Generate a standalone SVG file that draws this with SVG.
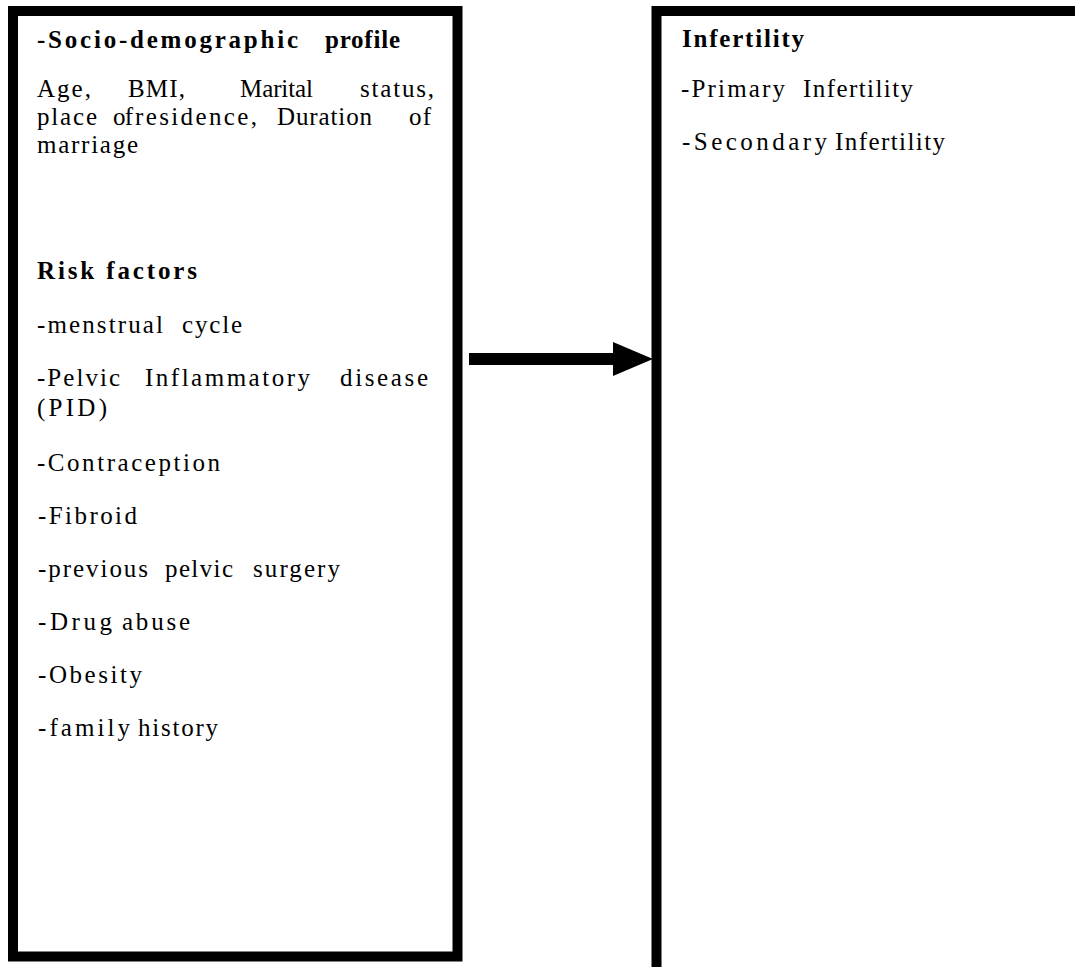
<svg xmlns="http://www.w3.org/2000/svg" width="1075" height="967" viewBox="0 0 1075 967">
<style>
.box{fill:#fff;stroke:#000;stroke-width:10}
.t{font-family:"Liberation Serif","DejaVu Serif","Noto Serif",Tinos,FreeSerif,serif;font-size:25px;fill:#000}
.b{font-weight:bold}
</style>
<rect x="0" y="0" width="1075" height="967" fill="#fff"/>
<g id="node-left">
<rect class="box" x="13" y="11" width="444.5" height="945.5"/>
<text class="t b" y="48"><tspan x="37" textLength="261" lengthAdjust="spacing">-Socio-demographic</tspan><tspan x="325" textLength="75" lengthAdjust="spacing">profile</tspan></text>
<text class="t" y="97"><tspan x="37" textLength="54" lengthAdjust="spacing">Age,</tspan><tspan x="128" textLength="57" lengthAdjust="spacing">BMI,</tspan><tspan x="240" textLength="73" lengthAdjust="spacing">Marital</tspan><tspan x="360" textLength="74" lengthAdjust="spacing">status,</tspan></text>
<text class="t" y="125"><tspan x="37" textLength="60" lengthAdjust="spacing">place</tspan><tspan x="113" textLength="20" lengthAdjust="spacing">of</tspan><tspan x="135" textLength="122" lengthAdjust="spacing">residence,</tspan><tspan x="277" textLength="95" lengthAdjust="spacing">Duration</tspan><tspan x="409" textLength="22" lengthAdjust="spacing">of</tspan></text>
<text class="t" x="37" y="153" textLength="101" lengthAdjust="spacing">marriage</text>
<text class="t b" x="37" y="279" textLength="160" lengthAdjust="spacing">Risk factors</text>
<text class="t" y="333"><tspan x="37" textLength="126" lengthAdjust="spacing">-menstrual</tspan><tspan x="182" textLength="60" lengthAdjust="spacing">cycle</tspan></text>
<text class="t" y="386"><tspan x="37" textLength="83" lengthAdjust="spacing">-Pelvic</tspan><tspan x="145" textLength="165" lengthAdjust="spacing">Inflammatory</tspan><tspan x="340" textLength="88" lengthAdjust="spacing">disease</tspan></text>
<text class="t" x="37" y="416" textLength="70" lengthAdjust="spacing">(PID)</text>
<text class="t" x="37" y="471" textLength="183" lengthAdjust="spacing">-Contraception</text>
<text class="t" x="38" y="524" textLength="99" lengthAdjust="spacing">-Fibroid</text>
<text class="t" y="577"><tspan x="38" textLength="110" lengthAdjust="spacing">-previous</tspan><tspan x="165" textLength="68" lengthAdjust="spacing">pelvic</tspan><tspan x="253" textLength="87" lengthAdjust="spacing">surgery</tspan></text>
<text class="t" y="630"><tspan x="38" textLength="74" lengthAdjust="spacing">-Drug</tspan><tspan x="122" textLength="68" lengthAdjust="spacing">abuse</tspan></text>
<text class="t" x="38" y="683" textLength="104" lengthAdjust="spacing">-Obesity</text>
<text class="t" y="736"><tspan x="38" textLength="92" lengthAdjust="spacing">-family</tspan><tspan x="138" textLength="80" lengthAdjust="spacing">history</tspan></text>
</g>
<g id="node-right">
<rect class="box" x="656.5" y="11" width="500" height="1000"/>
<text class="t b" x="682" y="47" textLength="122" lengthAdjust="spacing">Infertility</text>
<text class="t" y="97"><tspan x="681" textLength="104" lengthAdjust="spacing">-Primary</tspan><tspan x="803" textLength="110" lengthAdjust="spacing">Infertility</tspan></text>
<text class="t" y="150"><tspan x="682" textLength="145" lengthAdjust="spacing">-Secondary</tspan><tspan x="835" textLength="110" lengthAdjust="spacing">Infertility</tspan></text>
</g>
<g id="connectors">
<rect x="469" y="353" width="146" height="12" fill="#000"/>
<polygon points="613,342 653,359 613,376" fill="#000"/>
</g>
</svg>
